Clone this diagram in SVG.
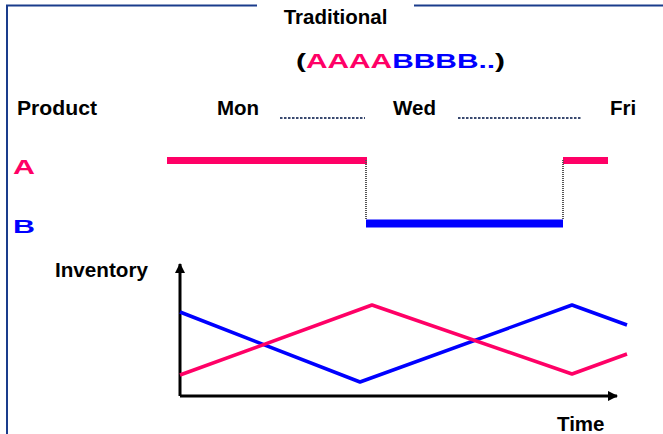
<svg xmlns="http://www.w3.org/2000/svg" width="663" height="434" viewBox="0 0 663 434">
<defs>
<style>
text{font-family:"Liberation Sans",Arial,sans-serif;font-weight:bold;fill:#000}
.lbl{font-size:20.5px}
.pink{fill:#ff0066}
.blue{fill:#0000ff}
.frame{stroke:#1a3c8c;stroke-width:2;fill:none}
.dots{stroke:#3a4a70;stroke-width:2;stroke-dasharray:2.5 1.5;fill:none}
.vdots{stroke:#555;stroke-width:2;stroke-dasharray:1 1;fill:none}
.axis{stroke:#000;stroke-width:3;fill:none}
</style>
<marker id="arr" viewBox="0 0 10 10" refX="9" refY="5" markerWidth="3.5" markerHeight="3.5" orient="auto" markerUnits="strokeWidth">
<path d="M0,0 L10,5 L0,10 z" fill="#000"/>
</marker>
</defs>
<rect width="663" height="434" fill="#fff"/>
<g id="frame">
<path class="frame" d="M7,434 V5.5 H257 M414,5.5 H663"/>
</g>
<g id="title">
<text x="335.5" y="24" class="lbl" text-anchor="middle">Traditional</text>
<text x="296" y="68" font-size="21" textLength="209" lengthAdjust="spacingAndGlyphs">(<tspan class="pink">AAAA</tspan><tspan class="blue">BBBB..</tspan>)</text>
</g>
<g id="header">
<text x="17" y="115" class="lbl" textLength="80" lengthAdjust="spacingAndGlyphs">Product</text>
<text x="217" y="115" class="lbl">Mon</text>
<text x="393" y="115" class="lbl">Wed</text>
<text x="610" y="115" class="lbl">Fri</text>
</g>
<g id="label-A"><text x="13" y="174" font-size="19.5" class="pink" textLength="22" lengthAdjust="spacingAndGlyphs">A</text></g>
<g id="label-B"><text x="13" y="233" font-size="18.5" class="blue" textLength="22" lengthAdjust="spacingAndGlyphs">B</text></g>
<g id="schedule">
<path d="M167,160.5 H367" stroke="#ff0066" stroke-width="7"/>
<path d="M563,160.5 H608" stroke="#ff0066" stroke-width="7"/>
<path d="M366,223.5 H563" stroke="#0000ff" stroke-width="8"/>
</g>
<g id="connectors">
<path class="dots" d="M280,118 H365 M458,118 H582"/>
<path class="vdots" d="M366,160 V220 M563,160 V220"/>
<path class="axis" d="M180,396 V264" marker-end="url(#arr)"/>
<path class="axis" d="M180,396 H617" marker-end="url(#arr)"/>
</g>
<g id="inventory-chart">
<text x="55" y="277" class="lbl" textLength="93" lengthAdjust="spacingAndGlyphs">Inventory</text>
<text x="557" y="431" class="lbl">Time</text>
<polyline points="180,312 360,382 572,305 627,325" fill="none" stroke="#0000ff" stroke-width="3.5" stroke-linejoin="round"/>
<polyline points="180,375 372,305 572,374 627,354" fill="none" stroke="#ff0066" stroke-width="3.5" stroke-linejoin="round"/>
</g>
</svg>
